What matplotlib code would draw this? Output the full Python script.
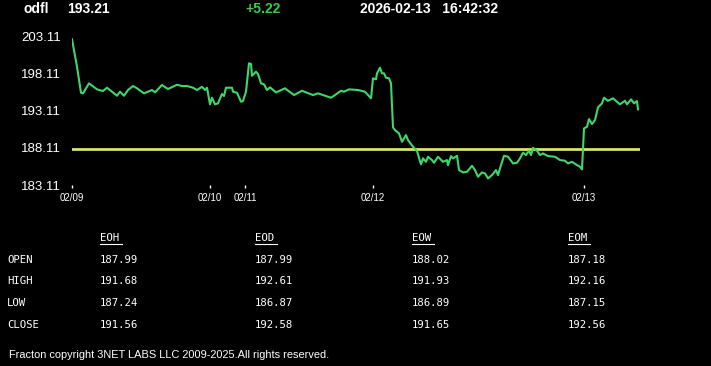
import matplotlib
matplotlib.use('Agg')
import matplotlib.pyplot as plt

# ---- data ----
symbol = "odfl"
last_price = "193.21"
change = "+5.22"
stamp = "2026-02-13   16:42:32"
prev_close = 187.99

t = [0, 5, 9, 11, 17, 25, 31, 35, 45, 48, 52, 56, 61, 65, 72, 80, 83, 90, 96, 105,
     110, 115, 121, 125, 130, 133, 135, 138, 140, 143, 146, 150, 152, 154, 160, 161,
     165, 169, 171, 174, 177, 179, 180, 184, 186, 189, 192, 195, 198, 204, 213, 222,
     230, 235, 241, 246, 251, 259, 263, 269, 272, 277, 286, 293, 299, 301, 304, 305,
     308, 310, 312, 314, 317, 319, 321, 323, 327, 330, 334, 336, 341, 345, 349, 351,
     354, 356, 360, 362, 366, 371, 375, 376, 379, 381, 385, 387, 391, 395, 400, 403,
     406, 410, 413, 416, 420, 424, 426, 428, 432, 436, 441, 445, 448, 451, 454, 457,
     459, 461, 465, 468, 471, 476, 483, 488, 493, 496, 500, 505, 508, 510, 512, 515,
     517, 520, 523, 526, 530, 532, 536, 541, 548, 553, 555, 559, 562, 565, 566]
price = [202.76, 199.06, 195.55, 195.47, 196.82, 196.01, 195.78, 196.23, 195.15, 195.69,
         195.15, 195.92, 196.46, 196.15, 195.47, 195.92, 195.60, 196.60, 196.05, 196.63,
         196.46, 196.46, 196.23, 195.92, 196.36, 195.92, 196.23, 193.99, 194.88, 193.99,
         194.12, 195.38, 195.11, 196.23, 196.23, 195.69, 195.55, 194.34, 194.43, 195.69,
         199.52, 199.43, 197.85, 198.39, 198.08, 196.82, 196.69, 195.92, 196.28, 195.60,
         196.15, 195.24, 195.82, 195.55, 195.24, 195.47, 195.24, 194.88, 195.24, 195.82,
         195.69, 196.01, 195.92, 195.69, 194.80, 197.50, 197.36, 198.17, 198.93, 198.17,
         198.17, 197.58, 197.50, 196.82, 190.88, 190.52, 190.07, 188.94, 189.84, 189.17,
         188.27, 187.69, 185.89, 186.70, 186.24, 186.92, 186.47, 186.11, 186.92, 186.24,
         186.47, 185.79, 187.01, 186.70, 187.05, 185.12, 184.81, 184.89, 185.70, 185.12,
         184.22, 184.81, 184.67, 184.00, 184.45, 185.12, 184.45, 185.35, 187.05, 186.92,
         186.02, 186.11, 186.70, 187.46, 187.15, 187.73, 187.15, 188.13, 187.73, 187.15,
         187.37, 187.01, 186.92, 186.47, 186.38, 186.02, 186.24, 185.79, 185.57, 185.21,
         190.74, 190.96, 192.00, 191.33, 191.87, 193.58, 194.12, 194.88, 194.47, 194.80,
         193.99, 194.47, 193.99, 194.66, 194.12, 194.43, 193.31]

day_pos = [0, 138, 173, 301, 512]
day_labels = ["02/09", "02/10", "02/11", "02/12", "02/13"]
y_ticks = [203.11, 198.11, 193.11, 188.11, 183.11]

row_names = ["OPEN", "HIGH", "LOW", "CLOSE"]
col_names = ["EOH", "EOD", "EOW", "EOM"]
eoh = ["187.99", "191.68", "187.24", "191.56"]
eod = ["187.99", "192.61", "186.87", "192.58"]
eow = ["188.02", "191.93", "186.89", "191.65"]
eom = ["187.18", "192.16", "187.15", "192.56"]
footer = "Fracton copyright 3NET LABS LLC 2009-2025.All rights reserved."

W, H = 711, 366
fig = plt.figure(figsize=(W / 100, H / 100), dpi=100, facecolor='black')
sans = 'Liberation Sans'
mono = 'DejaVu Sans Mono'

def fx(px):
    return px / W

def fy(py):
    return 1 - py / H

# header
fig.text(fx(23), fy(9), symbol, color='white', fontsize=10, fontweight='bold', family=sans, va='center')
fig.text(fx(67), fy(9), last_price, color='white', fontsize=10, fontweight='bold', family=sans, va='center')
fig.text(fx(245), fy(9), change, color='#3ec83e', fontsize=10, fontweight='bold', family=sans, va='center')
fig.text(fx(360), fy(9), stamp, color='white', fontsize=10, fontweight='bold', family=sans, va='center')

# price chart
ax = fig.add_axes([fx(72), fy(185), fx(640) - fx(72), (185 - 36.7) / H])
ax.set_facecolor('black')
ax.plot(t, price, color='#3fd66b', lw=1.5, zorder=3)
ax.axhline(prev_close, color='#d9e36a', lw=2, zorder=2)
ax.set_xlim(0, 568)
ax.set_ylim(183.11, 203.11)
for s in ax.spines.values():
    s.set_visible(False)
ax.set_yticks(y_ticks)
ax.set_yticklabels([f"{v:.2f}" for v in y_ticks])
ax.tick_params(axis='y', length=0, pad=8, labelcolor='white', labelsize=9.5)
ax.set_xticks(day_pos)
ax.set_xticklabels(day_labels)
ax.tick_params(axis='x', direction='out', length=2.5, width=1, color='white',
               pad=3.5, labelcolor='white', labelsize=7)
for lab in ax.get_xticklabels() + ax.get_yticklabels():
    lab.set_family(sans)

# table
col_x = [100, 255, 412, 568]
row_y = [260, 281, 302.5, 325]
cols = [eoh, eod, eow, eom]
for name, x in zip(col_names, col_x):
    fig.text(fx(x), fy(238), name, color='white', fontsize=7.7, family=mono, va='center')
    fig.add_artist(plt.Line2D([fx(x), fx(x + 22)], [fy(243.5), fy(243.5)],
                              color='white', lw=0.8))
for name, y in zip(row_names, row_y):
    fig.text(fx(7), fy(y), name, color='white', fontsize=7.7, family=mono, va='center')
for vals, x in zip(cols, col_x):
    for v, y in zip(vals, row_y):
        fig.text(fx(x), fy(y), v, color='white', fontsize=7.7, family=mono, va='center')

fig.text(fx(9), fy(355), footer, color='white', fontsize=7.95, family=sans, va='center')

fig.savefig('out.png', dpi=100, facecolor='black')
